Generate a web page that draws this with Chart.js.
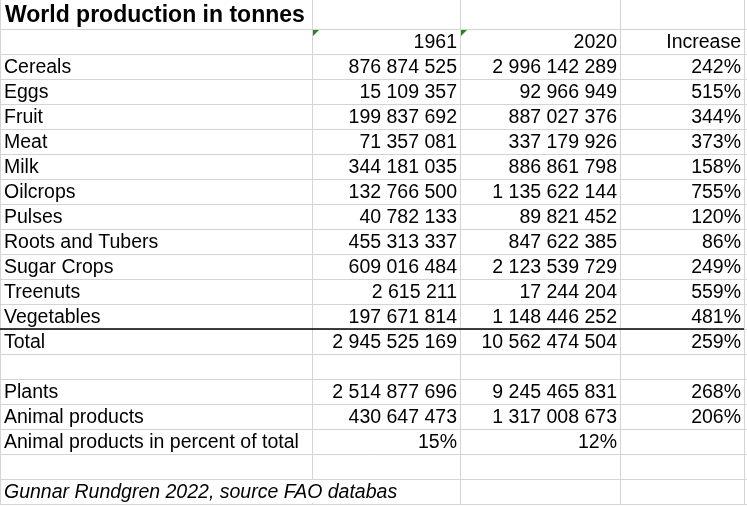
<!DOCTYPE html>
<html><head><meta charset="utf-8">
<script src="https://cdn.jsdelivr.net/npm/chart.js@4"></script>
<style>html,body{margin:0;padding:0;background:#fff;overflow:hidden}</style>
</head><body>
<canvas id="c" width="747" height="506"></canvas>
<script>
const title = "World production in tonnes";
const headers = ["", "1961", "2020", "Increase"];
const categories = ["Cereals","Eggs","Fruit","Meat","Milk","Oilcrops","Pulses","Roots and Tubers","Sugar Crops","Treenuts","Vegetables"];
const values1961 = ["876 874 525","15 109 357","199 837 692","71 357 081","344 181 035","132 766 500","40 782 133","455 313 337","609 016 484","2 615 211","197 671 814"];
const values2020 = ["2 996 142 289","92 966 949","887 027 376","337 179 926","886 861 798","1 135 622 144","89 821 452","847 622 385","2 123 539 729","17 244 204","1 148 446 252"];
const increase = ["242%","515%","344%","373%","158%","755%","120%","86%","249%","559%","481%"];
const totalRow = ["Total","2 945 525 169","10 562 474 504","259%"];
const plantsRow = ["Plants","2 514 877 696","9 245 465 831","268%"];
const animalRow = ["Animal products","430 647 473","1 317 008 673","206%"];
const percentRow = ["Animal products in percent of total","15%","12%",""];
const source = "Gunnar Rundgren 2022, source FAO databas";

const rows = [headers];
categories.forEach((c,i)=>rows.push([c,values1961[i],values2020[i],increase[i]]));
rows.push(totalRow, ["","","",""], plantsRow, animalRow, percentRow, ["","","",""]);

const colEdges = [0, 312, 460, 620, 744];
const top0 = 29, rowH = 25;

const tablePlugin = {
  id: 'table',
  afterDraw(chart) {
    const ctx = chart.ctx, xs = chart.scales.x, ys = chart.scales.y;
    const X = v => xs.getPixelForValue(v), Y = v => ys.getPixelForValue(v);
    ctx.save();
    ctx.strokeStyle = '#d4d4d4'; ctx.lineWidth = 1;
    const nRows = rows.length + 1;
    for (let i = 0; i <= nRows; i++) {
      const y = Math.round(Y(top0 + i*rowH)) + 0.5;
      ctx.beginPath(); ctx.moveTo(X(0), y); ctx.lineTo(X(747), y); ctx.stroke();
    }
    colEdges.forEach(cx => {
      const x = Math.round(X(cx)) + 0.5;
      ctx.beginPath(); ctx.moveTo(x, Y(0)); ctx.lineTo(x, Y(top0 + nRows*rowH)); ctx.stroke();
    });
    ctx.fillStyle = '#fff';
    ctx.fillRect(X(1), Y(1), X(311)-X(1), Y(28)-Y(1));
    const pr = top0 + 16*rowH, sr = top0 + 18*rowH;
    ctx.fillRect(X(1), Y(pr+1), X(311)-X(1), Y(pr+24)-Y(pr+1));
    ctx.fillRect(X(1), Y(sr+1), X(459)-X(1), Y(sr+24)-Y(sr+1));
    ctx.strokeStyle = '#000'; ctx.lineWidth = 1.5;
    const ty = Y(top0 + 12*rowH);
    ctx.beginPath(); ctx.moveTo(X(0), ty); ctx.lineTo(X(744), ty); ctx.stroke();
    ctx.fillStyle = '#1e8a1e';
    [313, 461].forEach(gx => {
      ctx.beginPath(); ctx.moveTo(X(gx), Y(30)); ctx.lineTo(X(gx+6), Y(30)); ctx.lineTo(X(gx), Y(36)); ctx.fill();
    });
    ctx.fillStyle = '#000'; ctx.textBaseline = 'middle';
    ctx.font = 'bold 23px "Liberation Sans", Arial, sans-serif'; ctx.textAlign = 'left';
    ctx.fillText(title, X(5), Y(16));
    ctx.font = '19.5px "Liberation Sans", Arial, sans-serif';
    rows.forEach((r, i) => {
      const cy = Y(top0 + i*rowH + 14);
      ctx.textAlign = 'left'; ctx.fillText(r[0], X(4), cy);
      ctx.textAlign = 'right';
      for (let j = 1; j < 4; j++) ctx.fillText(r[j], X(colEdges[j+1] - 3), cy);
    });
    ctx.font = 'italic 19.5px "Liberation Sans", Arial, sans-serif'; ctx.textAlign = 'left';
    ctx.fillText(source, X(4), Y(sr + 14));
    ctx.restore();
  }
};

new Chart(document.getElementById('c'), {
  type: 'scatter',
  data: { datasets: [{ data: [], pointRadius: 0 }] },
  options: {
    responsive: false, animation: false, devicePixelRatio: 1,
    layout: { padding: 0 },
    plugins: { legend: { display: false }, tooltip: { enabled: false } },
    scales: {
      x: { type: 'linear', min: 0, max: 747, display: false },
      y: { type: 'linear', min: 0, max: 506, reverse: true, display: false }
    }
  },
  plugins: [tablePlugin]
});
</script>
</body></html>
